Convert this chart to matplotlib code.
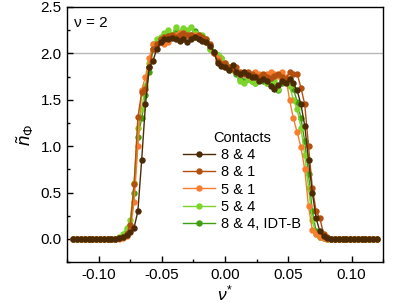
import numpy as np
import matplotlib
matplotlib.use("Agg")
import matplotlib.pyplot as plt
from matplotlib.ticker import MultipleLocator

plt.rcParams['font.family'] = ['Liberation Sans', 'DejaVu Sans']
plt.rcParams['mathtext.fontset'] = 'custom'
plt.rcParams['mathtext.rm'] = 'Liberation Sans'
plt.rcParams['mathtext.it'] = 'Liberation Sans:italic'
plt.rcParams['axes.unicode_minus'] = False

# filling factor grid (nu*)
nu = np.round(np.linspace(-0.12, 0.12, 81), 3)

Z14 = [0.0] * 12
s84 = Z14 + [0.01, 0.02, 0.04, 0.07, 0.12, 0.30, 0.85, 1.45, 1.85, 1.92, 2.05, 2.12, 2.16, 2.15, 2.17, 2.15,
             2.13, 2.15, 2.12, 2.16, 2.18, 2.15, 2.13, 2.12, 2.08, 2.02, 1.90, 1.86, 1.85, 1.82, 1.87, 1.80,
             1.78, 1.80, 1.77, 1.75, 1.74, 1.70, 1.72, 1.70, 1.65, 1.62, 1.66, 1.70, 1.68, 1.72, 1.68, 1.60,
             1.45, 1.22, 0.85, 0.50, 0.22, 0.08, 0.03, 0.01] + [0.0] * 13
s81 = Z14 + [0.01, 0.02, 0.05, 0.15, 0.59, 1.31, 1.58, 1.62, 1.85, 2.05, 2.10, 2.15, 2.18, 2.19, 2.20, 2.18,
             2.20, 2.22, 2.20, 2.20, 2.18, 2.20, 2.18, 2.15, 2.10, 2.00, 1.92, 1.88, 1.90, 1.85, 1.83, 1.85,
             1.80, 1.78, 1.80, 1.78, 1.76, 1.75, 1.78, 1.75, 1.73, 1.76, 1.78, 1.75, 1.72, 1.80, 1.78, 1.78,
             1.63, 1.45, 1.00, 0.55, 0.30, 0.22, 0.05, 0.02] + [0.0] * 13
s51 = Z14 + [0.0, 0.01, 0.03, 0.10, 0.40, 1.00, 1.60, 1.75, 1.95, 2.10, 2.10, 2.13, 2.10, 2.12, 2.18, 2.20,
             2.22, 2.18, 2.20, 2.20, 2.20, 2.18, 2.15, 2.12, 2.08, 2.00, 1.95, 1.90, 1.85, 1.83, 1.85, 1.80,
             1.78, 1.80, 1.77, 1.75, 1.80, 1.78, 1.77, 1.78, 1.80, 1.78, 1.76, 1.80, 1.75, 1.50, 1.30, 1.15,
             0.99, 0.75, 0.35, 0.10, 0.05, 0.02, 0.01, 0.0] + [0.0] * 13
s54 = Z14 + [0.02, 0.05, 0.12, 0.20, 0.60, 1.20, 1.40, 1.65, 1.90, 2.10, 2.15, 2.18, 2.22, 2.25, 2.20, 2.28,
             2.22, 2.27, 2.25, 2.28, 2.22, 2.20, 2.20, 2.15, 2.05, 2.00, 1.98, 1.95, 1.90, 1.85, 1.82, 1.80,
             1.70, 1.68, 1.72, 1.70, 1.68, 1.72, 1.75, 1.68, 1.72, 1.70, 1.62, 1.72, 1.70, 1.65, 1.50, 1.40,
             1.20, 0.90, 0.55, 0.20, 0.05, 0.02, 0.01, 0.0] + [0.0] * 13
sidt = Z14 + [0.01, 0.02, 0.06, 0.15, 0.50, 1.10, 1.30, 1.55, 1.80, 2.05, 2.12, 2.15, 2.20, 2.22, 2.18, 2.25,
              2.20, 2.25, 2.22, 2.20, 2.24, 2.20, 2.18, 2.12, 2.05, 2.02, 1.98, 1.95, 1.88, 1.82, 1.85, 1.78,
              1.72, 1.70, 1.72, 1.70, 1.68, 1.72, 1.70, 1.68, 1.70, 1.65, 1.60, 1.68, 1.70, 1.72, 1.62, 1.48,
              1.30, 1.05, 0.70, 0.30, 0.08, 0.02, 0.01, 0.0] + [0.0] * 13

labels = ['8 & 4', '8 & 1', '5 & 1', '5 & 4', '8 & 4, IDT-B']
series = [s84, s81, s51, s54, sidt]
colors = ['#4d2a06', '#b4500f', '#f77d2e', '#7dd42a', '#3f9e12']

fig = plt.figure(figsize=(3.97, 3.03), dpi=100)
ax = fig.add_axes([0.169, 0.135, 0.796, 0.842])

ax.axhline(2.0, color='#b8b8b8', lw=1.0, zorder=1)

handles = []
for k, (lab, ys, c) in enumerate(zip(labels, series, colors)):
    h, = ax.plot(nu, ys, '-o', color=c, lw=1.0, ms=4.6, mec=c, mew=0,
                 label=lab, zorder=10 - k)
    handles.append(h)

ax.set_xlim(-0.125, 0.125)
ax.set_ylim(-0.25, 2.5)
ax.xaxis.set_major_locator(MultipleLocator(0.05))
ax.xaxis.set_minor_locator(MultipleLocator(0.025))
ax.yaxis.set_major_locator(MultipleLocator(0.5))
ax.yaxis.set_minor_locator(MultipleLocator(0.25))
ax.set_xticks([-0.10, -0.05, 0.0, 0.05, 0.10])
ax.set_xticklabels(['-0.10', '-0.05', '0.00', '0.05', '0.10'])
ax.set_yticks([0.0, 0.5, 1.0, 1.5, 2.0, 2.5])
ax.set_yticklabels(['0.0', '0.5', '1.0', '1.5', '2.0', '2.5'])
ax.tick_params(which='both', direction='in', top=False, right=False, labelsize=11, width=1.0)
ax.tick_params(which='major', length=4, pad=4)
ax.tick_params(which='minor', length=2.5)
for sp in ax.spines.values():
    sp.set_linewidth(1.0)

ax.set_xlabel(r'$\it{\nu}^{*}$', fontsize=12.5, labelpad=1)
ax.set_ylabel(r'$\tilde{n}_{\Phi}$', fontsize=13.5, labelpad=3)

ax.text(0.022, 0.937, 'ν = 2', transform=ax.transAxes, fontsize=11, va='center', ha='left')

leg = ax.legend(handles=handles, title='Contacts', loc='upper left',
                bbox_to_anchor=(0.33, 0.56), frameon=False, fontsize=10.5,
                title_fontsize=10.5, labelspacing=0.22, handlelength=2.2,
                handletextpad=0.4, borderpad=0.3)

fig.savefig('out.png', dpi=100)
